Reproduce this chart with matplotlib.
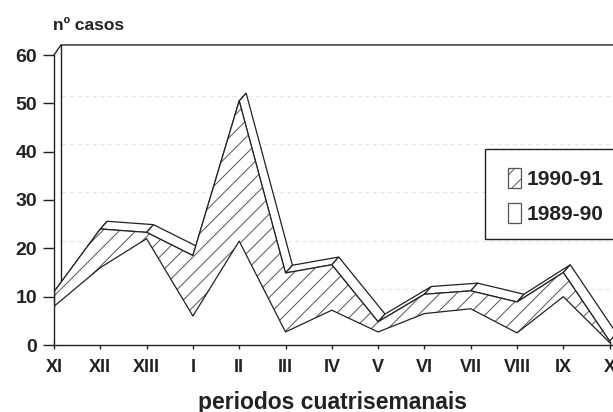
import matplotlib

matplotlib.use("Agg")
import matplotlib.pyplot as plt
import numpy as np
from matplotlib.patches import Polygon, Rectangle

periods = ["XI", "XII", "XIII", "I", "II", "III", "IV", "V", "VI", "VII", "VIII", "IX", "X"]
cases_1989_90 = [8, 16, 22, 6, 21.5, 2.7, 7.2, 2.7, 6.5, 7.5, 2.5, 10, 0.5]
cases_1990_91 = [3, 8, 1.3, 12.5, 29, 12.2, 9.4, 2.1, 4, 3.7, 6.4, 5, 0.3]
y_ticks = [0, 10, 20, 30, 40, 50, 60]

# depth of the pseudo-3d effect (category units, case units)
DX, DY = 0.15, 1.6
INK = "#222222"

plt.rcParams["font.family"] = ["Liberation Sans", "DejaVu Sans"]
plt.rcParams["font.weight"] = "bold"
plt.rcParams["hatch.linewidth"] = 0.7

fig = plt.figure(figsize=(6.13, 4.12), dpi=100)
ax = fig.add_axes([54 / 613, 67 / 412, 46.3 * 13 / 613, 290 / 412])

x = np.arange(len(periods))
lower = np.array(cases_1989_90, dtype=float)
upper = lower + np.array(cases_1990_91, dtype=float)

# back wall: faint grid, top edge, left edge
for v in y_ticks[1:-1]:
    ax.plot([DX, 14], [v + DY, v + DY], color="#e6e6e6", lw=0.8, ls=(0, (4, 3)), zorder=0.5, clip_on=False)
ax.plot([0, DX, 14], [60, 60 + DY * 1.3, 60 + DY * 1.3], color=INK, lw=1.0, zorder=0.6, clip_on=False)
ax.plot([DX, DX], [60 + DY * 1.3, 0], color=INK, lw=1.0, zorder=0.6, clip_on=False)

# top ribbon, one face per segment
for i in range(len(x) - 1):
    pts = [
        (x[i], upper[i]),
        (x[i + 1], upper[i + 1]),
        (x[i + 1] + DX, upper[i + 1] + DY),
        (x[i] + DX, upper[i] + DY),
    ]
    ax.add_patch(Polygon(pts, closed=True, facecolor="white", edgecolor=INK, lw=0.9, zorder=2))

# front face
ax.fill_between(x, 0, lower, facecolor="white", edgecolor="none", zorder=3)
ax.fill_between(x, lower, upper, facecolor="white", edgecolor="#555555", hatch="//", lw=0, zorder=3)
ax.plot(x, lower, color=INK, lw=0.9, zorder=4)
ax.plot(x, upper, color=INK, lw=0.9, zorder=4)
ax.plot([0, 0], [lower[0], upper[0]], color=INK, lw=0.9, zorder=4)

ax.set_xlim(0, 13)
ax.set_ylim(0, 60)
ax.set_xticks(x)
ax.set_xticklabels(periods)
ax.set_yticks(y_ticks)
for s in ["top", "right"]:
    ax.spines[s].set_visible(False)
for s in ["left", "bottom"]:
    ax.spines[s].set_color(INK)
    ax.spines[s].set_linewidth(1.0)
    ax.spines[s].set_zorder(5)
ax.tick_params(axis="y", direction="out", length=8, width=1, pad=4, labelsize=14, colors=INK)
ax.tick_params(axis="x", direction="inout", length=6, width=1, pad=7, labelsize=13, colors=INK)

ax.set_xlabel("periodos cuatrisemanais", fontsize=16.5, fontweight="bold", color=INK, labelpad=12)
fig.text(53 / 613, 1 - 25 / 412, "nº casos", fontsize=12.5, fontweight="bold", color=INK, va="center", ha="left")
ax.xaxis.set_label_coords((332 - 54) / (46.3 * 13), -57 / 290)
ax.xaxis.label.set_va("center")

# legend box runs off the right edge like in the scan
fig.patches.append(Rectangle((485 / 613, 1 - 239 / 412), 200 / 613, 90 / 412, transform=fig.transFigure,
                             facecolor="white", edgecolor=INK, lw=1.0, zorder=6))
handles = ax.collections[-1:] + ax.collections[-2:-1]
leg = fig.legend(handles, ["1990-91", "1989-90"], loc="upper left", bbox_to_anchor=(493 / 613, 1 - 153 / 412),
                 frameon=False, fontsize=15, handlelength=0.62, handleheight=1.1, handletextpad=0.3,
                 labelspacing=0.7, borderpad=0.2)
leg.set_zorder(7)
for h in leg.legend_handles:
    h.set_edgecolor("#555555")
    h.set_linewidth(0.9)
for t in leg.get_texts():
    t.set_fontweight("bold")
    t.set_color(INK)

fig.savefig("out.png", dpi=100)
